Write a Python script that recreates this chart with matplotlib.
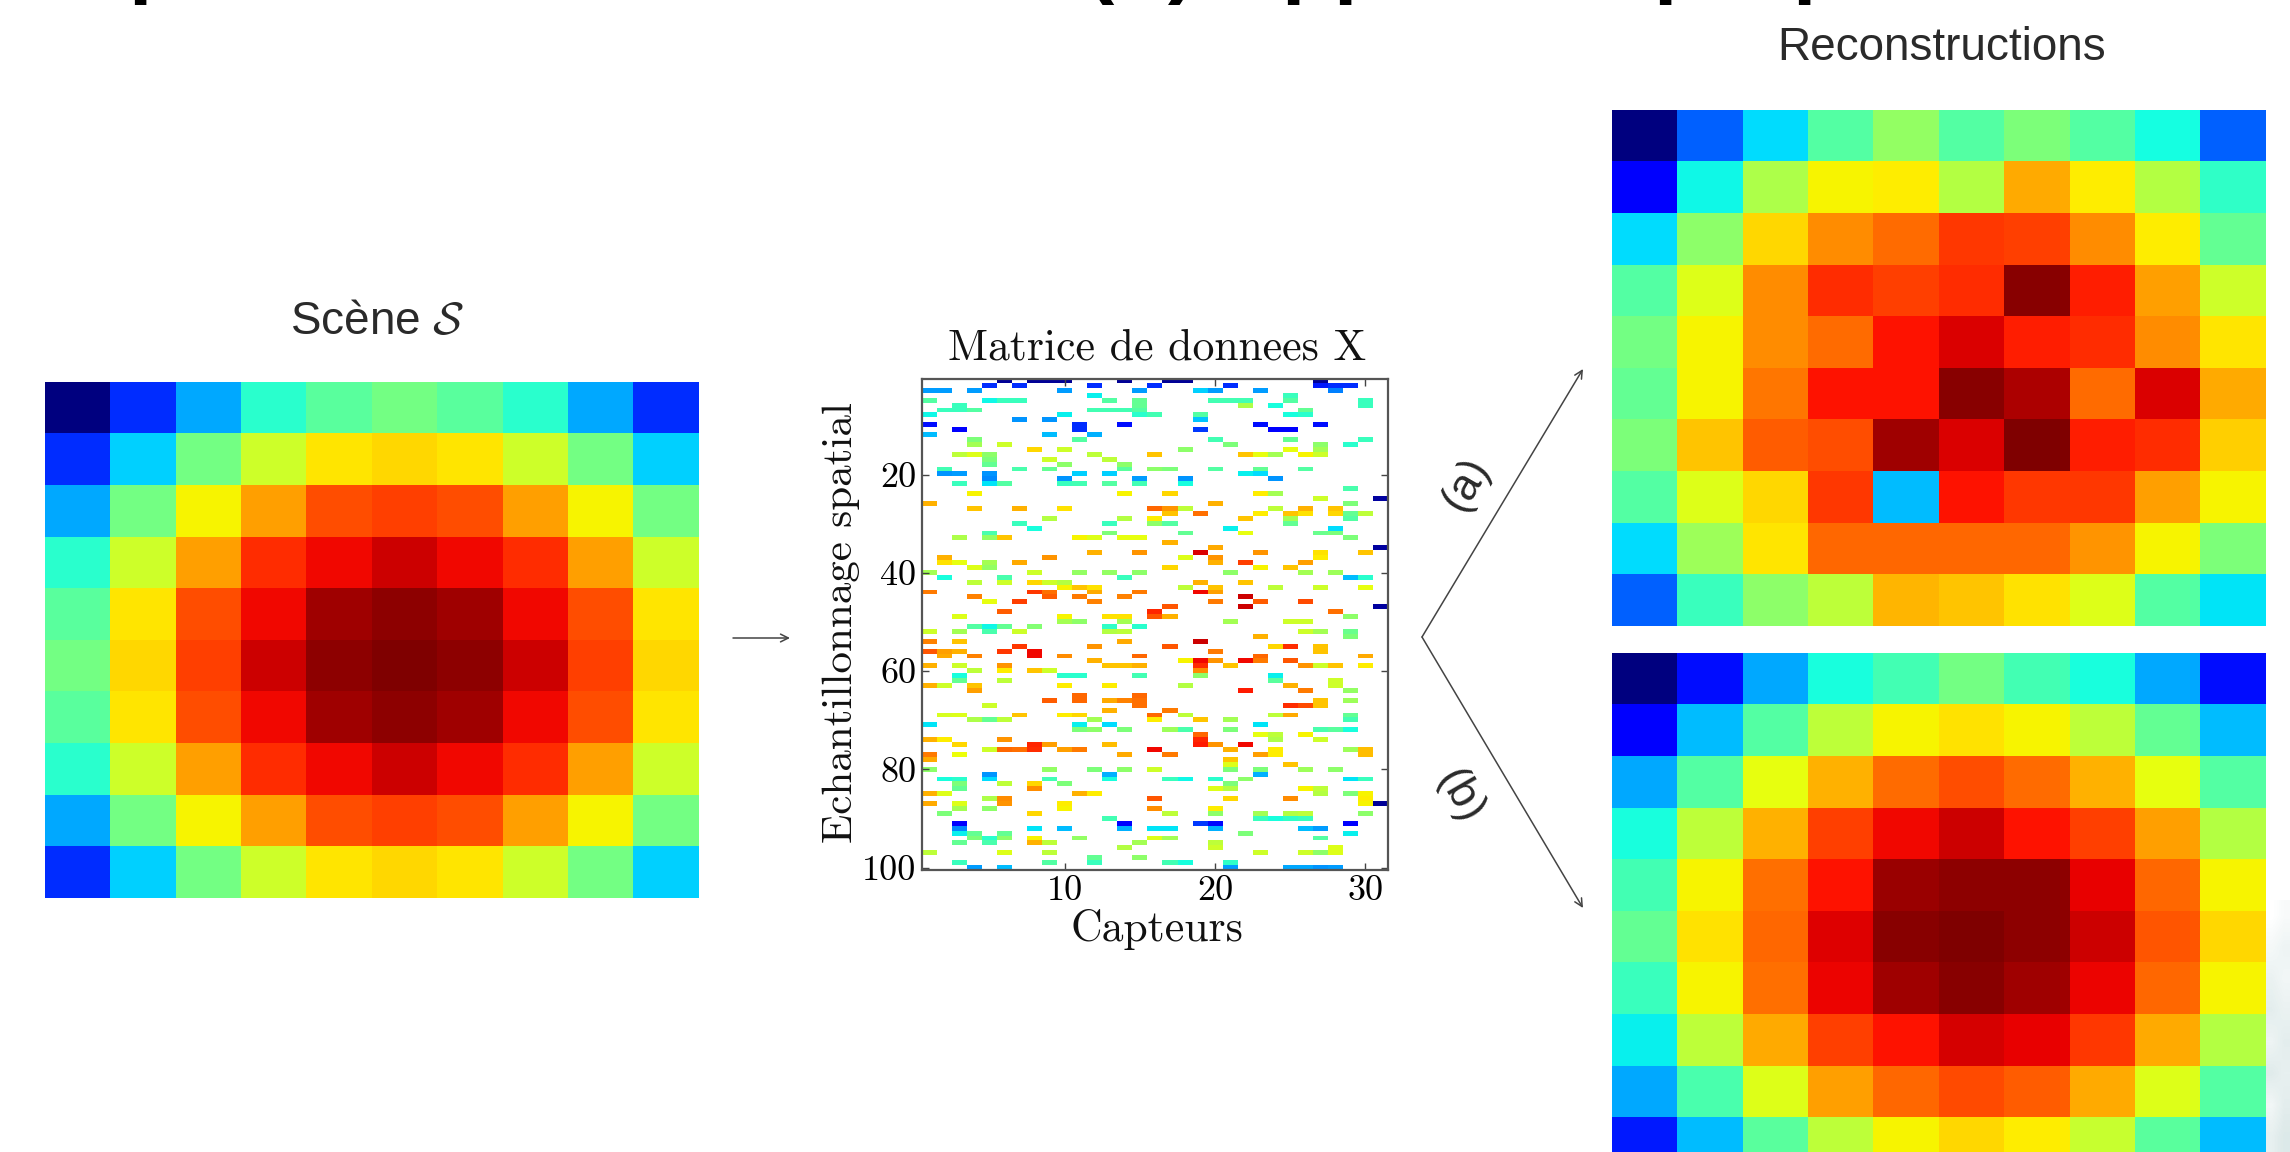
import matplotlib
matplotlib.use("Agg")
import matplotlib.pyplot as plt
import numpy as np

W, H = 2290, 1152

# Scene S, values on the jet scale (0 to 1)
scene = [
    [0.00, 0.17, 0.29, 0.40, 0.46, 0.49, 0.46, 0.40, 0.29, 0.17],
    [0.17, 0.33, 0.49, 0.60, 0.665, 0.68, 0.665, 0.60, 0.49, 0.33],
    [0.29, 0.49, 0.65, 0.74, 0.825, 0.84, 0.825, 0.74, 0.65, 0.49],
    [0.40, 0.60, 0.74, 0.86, 0.90, 0.93, 0.90, 0.86, 0.74, 0.60],
    [0.46, 0.665, 0.825, 0.90, 0.97, 0.985, 0.97, 0.90, 0.825, 0.665],
    [0.49, 0.68, 0.84, 0.93, 0.985, 1.00, 0.985, 0.93, 0.84, 0.68],
    [0.46, 0.665, 0.825, 0.90, 0.97, 0.985, 0.97, 0.90, 0.825, 0.665],
    [0.40, 0.60, 0.74, 0.86, 0.90, 0.93, 0.90, 0.86, 0.74, 0.60],
    [0.29, 0.49, 0.65, 0.74, 0.825, 0.84, 0.825, 0.74, 0.65, 0.49],
    [0.17, 0.33, 0.49, 0.60, 0.665, 0.68, 0.665, 0.60, 0.49, 0.33],
]

# Reconstruction (a)
recon_a = [
    [0.00, 0.22, 0.34, 0.45, 0.53, 0.45, 0.50, 0.45, 0.375, 0.22],
    [0.11, 0.37, 0.56, 0.65, 0.66, 0.57, 0.73, 0.66, 0.57, 0.41],
    [0.34, 0.52, 0.68, 0.76, 0.795, 0.85, 0.84, 0.76, 0.66, 0.47],
    [0.45, 0.62, 0.76, 0.86, 0.84, 0.86, 0.99, 0.875, 0.74, 0.60],
    [0.49, 0.65, 0.76, 0.795, 0.89, 0.92, 0.875, 0.86, 0.76, 0.665],
    [0.47, 0.65, 0.785, 0.89, 0.89, 0.99, 0.96, 0.795, 0.92, 0.73],
    [0.50, 0.70, 0.81, 0.825, 0.97, 0.92, 1.00, 0.875, 0.86, 0.69],
    [0.45, 0.62, 0.68, 0.85, 0.31, 0.89, 0.85, 0.85, 0.74, 0.65],
    [0.34, 0.54, 0.665, 0.80, 0.80, 0.80, 0.80, 0.75, 0.65, 0.50],
    [0.22, 0.42, 0.52, 0.58, 0.715, 0.70, 0.67, 0.62, 0.45, 0.35],
]

# Reconstruction (b)
recon_b = [
    [0.00, 0.14, 0.29, 0.38, 0.43, 0.49, 0.43, 0.38, 0.29, 0.14],
    [0.12, 0.31, 0.45, 0.58, 0.65, 0.67, 0.65, 0.58, 0.47, 0.31],
    [0.29, 0.45, 0.63, 0.72, 0.795, 0.825, 0.795, 0.72, 0.63, 0.45],
    [0.38, 0.58, 0.72, 0.84, 0.90, 0.93, 0.89, 0.84, 0.74, 0.57],
    [0.43, 0.65, 0.79, 0.89, 0.975, 0.985, 0.985, 0.91, 0.80, 0.65],
    [0.47, 0.67, 0.80, 0.915, 0.99, 1.00, 0.985, 0.93, 0.82, 0.68],
    [0.42, 0.65, 0.79, 0.905, 0.97, 0.99, 0.97, 0.905, 0.80, 0.65],
    [0.36, 0.58, 0.73, 0.84, 0.89, 0.925, 0.91, 0.85, 0.73, 0.57],
    [0.29, 0.44, 0.62, 0.74, 0.80, 0.83, 0.81, 0.73, 0.62, 0.45],
    [0.15, 0.31, 0.46, 0.58, 0.65, 0.68, 0.66, 0.59, 0.46, 0.31],
]

# Data matrix X : row -> {sensor: value}, everything else is missing
x_cells = {
    1: {6: .02, 8: .02, 9: .02, 10: .02, 14: .02, 17: .02, 18: .02, 27: .02},
    2: {5: .17, 7: .17, 12: .17, 16: .17, 21: .17, 27: .15, 28: .17, 29: .17},
    3: {1: .28, 2: .28, 4: .28, 10: .28, 15: .28, 19: .33, 20: .28, 23: .28, 28: .25},
    4: {12: .36, 25: .42},
    5: {1: .45, 5: .37, 6: .42, 7: .42, 13: .45, 15: .47, 20: .43, 21: .43, 22: .43, 25: .45, 30: .42},
    6: {3: .42, 15: .47, 22: .56, 24: .38, 30: .42},
    7: {2: .42, 3: .42, 4: .45, 12: .43, 13: .43, 14: .43, 15: .45, 26: .47},
    8: {1: .37, 10: .36, 15: .40, 16: .43, 19: .45, 25: .38, 26: .40},
    9: {7: .27, 9: .27, 19: .32},
    10: {1: .14, 11: .17, 14: .14, 23: .14, 27: .14},
    11: {3: .12, 11: .17, 19: .18, 24: .12, 25: .12},
    12: {1: .31, 9: .31, 12: .30},
    13: {4: .50, 11: .45, 20: .43, 25: .47, 30: .42},
    14: {4: .55, 6: .60, 21: .50, 27: .52, 29: .40},
    15: {8: .68, 10: .60, 18: .52, 25: .63, 27: .55},
    16: {3: .58, 4: .62, 5: .52, 12: .58, 16: .70, 22: .70, 23: .63, 24: .55, 26: .65, 27: .60},
    17: {5: .50, 9: .60, 13: .58},
    18: {5: .47, 10: .52, 14: .52},
    19: {2: .43, 7: .44, 9: .47, 14: .46, 16: .52, 17: .50, 20: .45, 23: .47, 26: .45},
    20: {2: .27, 3: .28, 5: .27, 11: .33, 13: .33, 22: .36, 23: .34},
    21: {5: .26, 10: .27, 15: .28, 18: .27, 24: .27},
    22: {3: .42, 5: .35, 6: .45, 10: .42, 11: .43, 13: .45, 15: .43, 18: .38},
    23: {29: .44},
    24: {4: .65, 14: .65, 17: .68, 23: .66, 24: .55},
    25: {27: .60, 31: .03},
    26: {1: .72, 20: .72, 29: .50},
    27: {4: .70, 7: .72, 10: .67, 16: .80, 17: .75, 18: .58, 24: .58, 26: .72, 28: .70},
    28: {17: .70, 19: .79, 23: .66, 25: .70, 26: .67, 28: .68, 29: .47, 30: .58},
    29: {9: .57, 14: .57, 16: .66, 22: .70, 25: .55, 29: .45},
    30: {7: .42, 13: .42, 16: .52, 17: .45, 25: .47},
    31: {8: .38, 21: .36, 28: .34},
    32: {5: .44, 13: .50, 18: .47, 22: .63, 27: .48, 28: .50},
    33: {3: .56, 5: .53, 6: .70, 11: .65, 12: .62, 14: .63, 15: .63, 29: .50},
    34: {17: .72},
    35: {20: .73, 31: .03},
    36: {12: .72, 15: .75, 19: .92, 23: .75, 27: .67, 30: .70},
    37: {2: .72, 9: .75, 18: .62, 20: .75, 27: .66},
    38: {2: .67, 3: .63, 5: .55, 7: .73, 20: .72, 22: .84, 26: .74},
    39: {4: .62, 5: .53, 17: .68, 23: .65, 25: .70},
    40: {1: .55, 8: .60, 11: .53, 13: .53, 15: .52, 21: .52, 26: .55, 28: .54},
    41: {2: .38, 6: .44, 14: .42, 29: .31, 30: .40},
    42: {4: .58, 6: .60, 8: .68, 9: .60, 10: .57, 19: .72, 22: .70},
    43: {10: .65, 11: .70, 12: .67, 18: .58, 20: .70, 24: .58, 27: .60, 30: .63},
    44: {1: .78, 8: .85, 9: .79, 12: .73, 15: .78, 19: .90, 20: .74},
    45: {4: .77, 9: .81, 11: .78, 14: .77, 22: .93},
    46: {5: .63, 7: .84, 12: .77, 20: .78, 23: .81, 26: .83},
    47: {17: .82, 22: .93, 31: .03},
    48: {6: .81, 16: .87, 28: .79},
    49: {3: .62, 10: .65, 13: .67, 14: .67, 16: .82, 17: .72, 29: .52},
    50: {10: .55, 11: .52, 14: .55, 21: .55, 25: .60, 26: .60},
    51: {4: .45, 5: .37, 6: .47, 8: .51, 13: .41, 15: .40},
    52: {1: .60, 3: .55, 5: .44, 7: .60, 13: .57, 14: .58, 26: .60, 27: .55, 29: .48},
    53: {23: .72, 29: .50},
    54: {1: .77, 3: .70, 14: .73, 19: .93},
    55: {7: .85, 12: .75, 17: .82, 24: .68, 25: .86, 27: .70},
    56: {1: .82, 2: .74, 3: .72, 6: .85, 8: .90, 20: .78, 27: .70},
    57: {2: .73, 4: .77, 8: .90, 10: .76, 15: .80, 23: .80, 30: .73},
    58: {12: .72, 18: .65, 19: .90, 20: .75, 22: .90, 23: .78, 25: .82},
    59: {1: .72, 3: .60, 6: .75, 13: .70, 14: .70, 15: .72, 19: .86, 21: .70, 26: .75, 27: .60, 28: .70, 30: .66},
    60: {4: .58, 6: .66, 8: .70, 9: .60, 19: .76},
    61: {3: .38, 10: .40, 11: .40, 15: .43, 19: .52, 24: .36},
    62: {3: .47, 6: .58, 24: .46, 28: .60},
    63: {1: .72, 2: .60, 4: .70, 10: .66, 13: .66, 18: .57, 25: .72, 28: .60},
    64: {4: .74, 22: .88, 26: .78, 29: .53},
    65: {11: .80, 15: .80},
    66: {9: .81, 11: .80, 13: .73, 14: .77, 15: .79, 27: .70, 29: .54},
    67: {5: .60, 15: .79, 25: .86, 26: .83, 27: .70},
    68: {13: .72, 17: .78},
    69: {2: .61, 3: .62, 7: .70, 10: .66, 11: .68, 16: .80, 18: .58, 24: .58, 25: .73, 29: .47},
    70: {4: .56, 5: .47, 6: .58, 12: .55, 16: .66, 19: .70, 21: .55, 29: .43},
    71: {1: .35, 11: .36, 13: .34, 23: .35},
    72: {11: .50, 12: .52, 14: .50, 17: .54, 18: .44, 21: .50, 27: .44, 28: .46, 29: .38},
    73: {19: .80, 23: .63, 24: .58, 26: .65},
    74: {1: .72, 2: .66, 6: .75, 19: .87, 24: .56, 27: .60},
    75: {3: .68, 8: .87, 9: .74, 13: .71, 19: .88, 20: .75, 22: .90},
    76: {5: .60, 6: .80, 7: .79, 8: .86, 10: .74, 11: .78, 16: .90, 21: .72, 24: .66, 29: .54, 30: .71},
    77: {1: .78, 3: .64, 14: .73, 17: .78, 23: .74, 24: .66, 30: .71},
    78: {1: .73, 21: .70},
    79: {21: .62, 25: .70},
    80: {1: .52, 9: .53, 12: .50, 14: .52, 16: .60, 21: .50, 23: .50, 26: .54, 28: .52},
    81: {5: .27, 13: .30, 23: .30},
    82: {2: .38, 3: .40, 5: .34, 9: .43, 13: .38, 17: .42, 18: .37, 20: .40, 22: .52, 29: .35, 30: .42},
    83: {3: .50, 6: .58, 8: .68, 10: .50, 21: .50},
    84: {3: .47, 8: .76, 20: .62, 21: .57, 26: .65, 27: .58},
    85: {1: .72, 2: .62, 11: .72, 12: .66, 27: .57, 29: .50, 30: .65},
    86: {5: .56, 6: .76, 16: .82, 21: .68, 25: .76, 30: .66},
    87: {1: .73, 3: .62, 6: .75, 10: .66, 30: .65, 31: .02},
    88: {3: .55, 5: .52, 10: .65, 16: .76, 20: .66},
    89: {2: .50, 8: .68, 17: .58, 20: .52, 23: .55, 25: .57, 26: .58, 30: .52},
    90: {13: .43, 23: .42, 24: .38, 25: .41, 26: .42},
    91: {3: .12, 14: .12, 19: .18, 20: .13, 29: .12},
    92: {3: .26, 8: .35, 10: .31, 14: .30, 16: .35, 17: .35, 20: .30, 26: .31, 27: .28},
    93: {3: .36, 4: .47, 6: .47, 22: .50, 29: .36},
    94: {4: .50, 5: .40, 6: .52, 8: .65, 11: .53, 16: .62, 17: .55, 27: .45},
    95: {3: .47, 5: .44, 8: .72, 9: .58, 15: .55, 20: .58},
    96: {14: .57, 20: .60, 28: .62},
    97: {1: .58, 6: .62, 9: .58, 23: .60, 26: .60, 27: .52, 28: .62},
    98: {12: .47, 15: .52},
    99: {3: .42, 9: .45, 12: .42, 17: .43, 18: .38, 21: .41},
    100: {4: .28, 6: .31, 21: .28, 25: .29, 26: .29, 27: .27, 28: .28},
}
x_yticks = [20, 40, 60, 80, 100]
x_xticks = [10, 20, 30]

# Faint remains of the slide background, bottom right corner
corner_grey = [
    [1.00, 0.98], [0.97, 0.95], [0.94, 0.96], [0.92, 0.94],
    [0.95, 0.92], [0.91, 0.93], [0.96, 0.92], [0.93, 0.90],
]

# Bits of the cropped slide title left at the top edge: (glyph, x position)
title_bits = [("p", 128), ("(", 1086), (")", 1168), ("p", 1281), ("p", 1333), ("p", 1653), ("p", 1792)]

plt.rcParams['mathtext.fontset'] = 'cm'
plt.rcParams['font.family'] = ['Liberation Sans', 'DejaVu Sans']


def axes_px(fig, x0, y0, x1, y1):
    # axes from pixel box, y going down like the image
    return fig.add_axes([x0 / W, 1 - y1 / H, (x1 - x0) / W, (y1 - y0) / H])


def heat(fig, box, values):
    ax = axes_px(fig, *box)
    ax.imshow(values, cmap="jet", vmin=0, vmax=1, aspect="auto", interpolation="nearest")
    ax.axis("off")
    return ax


fig = plt.figure(figsize=(W / 100, H / 100), dpi=100, facecolor="white")

heat(fig, (45, 382, 699, 898), scene)
heat(fig, (1612, 110, 2266, 626), recon_a)
heat(fig, (1612, 653, 2266, 1169), recon_b)

# Data matrix
matrix = np.full((100, 31), np.nan)
for row, cells in x_cells.items():
    for col, val in cells.items():
        matrix[row - 1, col - 1] = val

ax = axes_px(fig, 922, 379, 1388, 870)
ax.imshow(matrix, cmap="jet", vmin=0, vmax=1, aspect="auto", interpolation="nearest",
          extent=(0.5, 31.5, 100.5, 0.5))
ax.set_xticks(x_xticks)
ax.set_yticks(x_yticks)
ax.tick_params(direction="in", length=5, width=1, color="#444444", top=True, right=True,
               labelsize=26, pad=4)
for lab in ax.get_xticklabels() + ax.get_yticklabels():
    lab.set_family("cmr10")
for side in ax.spines.values():
    side.set_color("#555555")
    side.set_linewidth(1.6)

# Overlay in image pixels for the texts and arrows
over = fig.add_axes([0, 0, 1, 1], facecolor="none")
over.axis("off")

over.imshow(corner_grey, cmap="bone", vmin=0, vmax=1, extent=(2266, 2290, 1152, 900),
            aspect="auto", interpolation="bilinear")
over.set_xlim(0, W)
over.set_ylim(H, 0)

ink = "#2a2a2a"
over.text(1942, 48, "Reconstructions", fontsize=33, color=ink, ha="center", va="center")
over.text(377, 322, r"Scène $\mathcal{S}$", fontsize=33, color=ink, ha="center", va="center")
over.text(1157, 348, "Matrice de donnees X", family="cmr10", fontsize=31.5, color="#111111",
          ha="center", va="center")
over.text(1157, 941, "Capteurs", family="cmr10", fontsize=31.5, color="#111111",
          ha="center", va="baseline")
over.text(841, 623, "Echantillonnage spatial", family="cmr10", fontsize=31, color="#111111",
          rotation=90, ha="center", va="center")
over.text(1466, 484, "(a)", fontsize=32, color=ink, rotation=60, ha="center", va="center")
over.text(1460, 796, "(b)", fontsize=32, color=ink, rotation=-60, ha="center", va="center")

arrow_style = dict(arrowstyle="->", color="#444444", lw=1.1, shrinkA=0, shrinkB=0, mutation_scale=14)
over.annotate("", xy=(790, 638), xytext=(733, 638), arrowprops=arrow_style)
over.annotate("", xy=(1583, 369), xytext=(1422, 637), arrowprops=arrow_style)
over.annotate("", xy=(1583, 908), xytext=(1422, 637), arrowprops=arrow_style)

# Only the descenders of the slide title stay inside the frame
for glyph, x in title_bits:
    over.text(x, -13, glyph, fontsize=61, fontweight="bold", color="black", ha="left", va="baseline")

fig.savefig("out.png", dpi=100, facecolor="white")
